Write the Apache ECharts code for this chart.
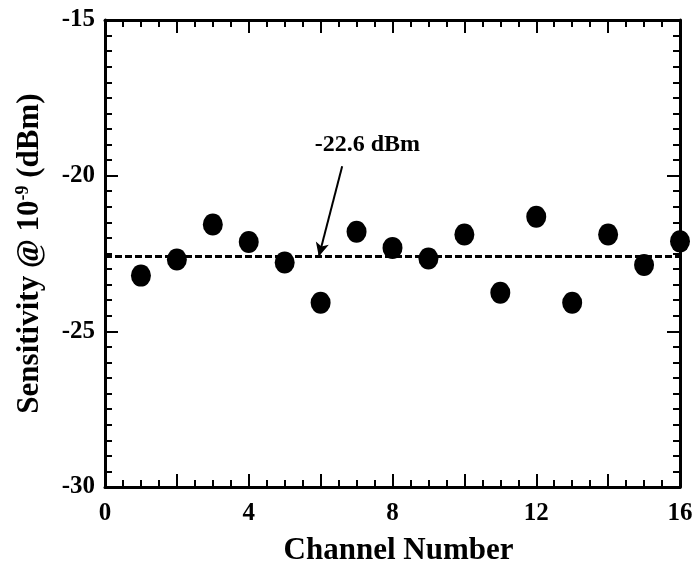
<!DOCTYPE html>
<html>
<head>
<meta charset="utf-8">
<script src="https://cdn.jsdelivr.net/npm/echarts@6/dist/echarts.min.js"></script>
<style>
  html, body { margin: 0; padding: 0; background: #fff; }
  #chart { width: 694px; height: 567px; }
</style>
</head>
<body>
<div id="chart"></div>
<script>
// Receiver sensitivity at BER 1e-9 for each WDM channel
const channels = [1, 2, 3, 4, 5, 6, 7, 8, 9, 10, 11, 12, 13, 14, 15, 16];
const sensitivity = [-23.21, -22.69, -21.57, -22.13, -22.79, -24.08, -21.80, -22.32,
                     -22.66, -21.89, -23.76, -21.32, -24.08, -21.89, -22.87, -22.11];
const averageLevel = -22.6;
const averageLabel = '-22.6 dBm';
// callout: text anchor, arrow tail and arrow tip in data units [channel, dBm]
const labelAt = [7.3, -19.0];
const arrowFrom = [6.6, -19.7];
const arrowTo = [5.95, -22.6];

const xRange = [0, 16];
const yRange = [-30, -15];

const FONT = "'Liberation Serif', 'Times New Roman', serif";
const INK = '#000';

const chart = echarts.init(document.getElementById('chart'));

const axisCommon = {
  axisLine: { show: true, onZero: false, lineStyle: { color: INK, width: 3 } },
  axisTick: { show: true, inside: true, length: 13, lineStyle: { color: INK, width: 2 } },
  minorTick: { show: true, length: 7, lineStyle: { color: INK, width: 2 } },
  splitLine: { show: false },
  minorSplitLine: { show: false }
};

chart.setOption({
  backgroundColor: '#fff',
  animation: false,
  grid: { left: 105, right: 14, top: 20, bottom: 80, containLabel: false, outerBoundsMode: 'none' },
  xAxis: [
    Object.assign({}, axisCommon, {
      type: 'value', min: xRange[0], max: xRange[1], interval: 2,
      minorTick: Object.assign({}, axisCommon.minorTick, { splitNumber: 4 }),
      position: 'bottom',
      name: 'Channel Number', nameLocation: 'middle', nameGap: 48,
      nameTextStyle: { fontFamily: FONT, fontWeight: 'bold', fontSize: 31, color: INK, padding: [0, 0, 0, 12] },
      axisLabel: {
        margin: 14, fontFamily: FONT, fontWeight: 'bold', fontSize: 25, color: INK,
        formatter: v => (v % 4 === 0 ? String(v) : '')
      }
    }),
    Object.assign({}, axisCommon, {
      type: 'value', min: xRange[0], max: xRange[1], interval: 2,
      minorTick: Object.assign({}, axisCommon.minorTick, { splitNumber: 4 }),
      position: 'top', axisLabel: { show: false }
    })
  ],
  yAxis: [
    Object.assign({}, axisCommon, {
      type: 'value', min: yRange[0], max: yRange[1], interval: 5,
      minorTick: Object.assign({}, axisCommon.minorTick, { splitNumber: 10 }),
      position: 'left',
      name: '{t|Sensitivity @ 10}{s|-9}{t| (dBm)}', nameLocation: 'middle', nameGap: 59, nameRotate: 90,
      nameTextStyle: {
        rich: {
          t: { fontFamily: FONT, fontWeight: 'bold', fontSize: 31, color: INK },
          s: { fontFamily: FONT, fontWeight: 'bold', fontSize: 18, color: INK, verticalAlign: 'top', padding: [0, 0, 14, 0] }
        }
      },
      axisLabel: { margin: 10, fontFamily: FONT, fontWeight: 'bold', fontSize: 25, color: INK }
    }),
    Object.assign({}, axisCommon, {
      type: 'value', min: yRange[0], max: yRange[1], interval: 5,
      minorTick: Object.assign({}, axisCommon.minorTick, { splitNumber: 10 }),
      position: 'right', axisLabel: { show: false }
    })
  ],
  series: [
    {
      type: 'scatter',
      data: channels.map((c, i) => [c, sensitivity[i]]),
      symbol: 'circle',
      symbolSize: [20, 22],
      itemStyle: { color: INK, opacity: 1 },
      z: 5,
      markLine: {
        silent: true,
        animation: false,
        label: { show: false },
        data: [
          [
            { coord: [xRange[0], averageLevel], symbol: 'none' },
            { coord: [xRange[1], averageLevel], symbol: 'none' }
          ],
          [
            { coord: arrowFrom, symbol: 'none', lineStyle: { type: 'solid', width: 2 } },
            { coord: arrowTo, symbol: 'arrow', symbolSize: [10, 14] }
          ]
        ],
        lineStyle: { color: INK, width: 3, type: [7, 3], opacity: 1 }
      }
    },
    {
      type: 'scatter',
      data: [labelAt],
      symbolSize: 0,
      silent: true,
      itemStyle: { opacity: 1 },
      label: {
        show: true, position: 'inside', formatter: averageLabel,
        fontFamily: FONT, fontWeight: 'bold', fontSize: 24, color: INK, opacity: 1
      }
    }
  ]
});
</script>
</body>
</html>
